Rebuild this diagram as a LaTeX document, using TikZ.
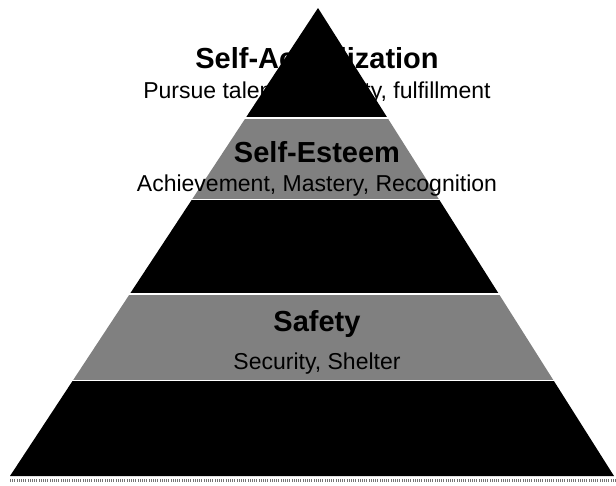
\documentclass[tikz,border=0pt]{standalone}
\usepackage{fontspec}
\setmainfont{Liberation Sans}
\newcommand{\Title}{\bfseries\fontsize{29}{31}\selectfont}
\newcommand{\Sub}{\fontsize{23}{25}\selectfont}
\begin{document}
\begin{tikzpicture}[x=1pt,y=-1pt]
		\useasboundingbox (0,0) rectangle (616,485);
		% top level text, partly covered by the apex
		\node[anchor=base,font=\Title] (selfact) at (317,68) {Self-Actualization};
		\node[anchor=base,font=\Sub] (selfactsub) at (317,98) {Pursue talent, creativity, fulfillment};
		
		\begin{scope}
			\clip (318,8) -- (614,476) -- (10,476) -- cycle;
			\fill[black] (0,0) rectangle (616,116.5);
			\fill[black!50] (0,118.5) rectangle (616,198.5);
			\fill[black] (0,200) rectangle (616,292.5);
			\fill[black!50] (0,294.5) rectangle (616,379.5);
			\fill[black] (0,381) rectangle (616,477);
		\end{scope}
		\draw[black!55,line width=3pt,dash pattern=on 1pt off 1.2pt] (10,480) -- (616,480);
		
		\node[anchor=base,font=\Title] (esteem) at (317,162) {Self-Esteem};
		\node[anchor=base,font=\Sub] (esteemsub) at (317,191) {Achievement, Mastery, Recognition};
		\node[anchor=base,font=\Title] (safety) at (317,331) {Safety};
		\node[anchor=base,font=\Sub] (safetysub) at (317,369) {Security, Shelter};
	\end{tikzpicture}
\end{document}
